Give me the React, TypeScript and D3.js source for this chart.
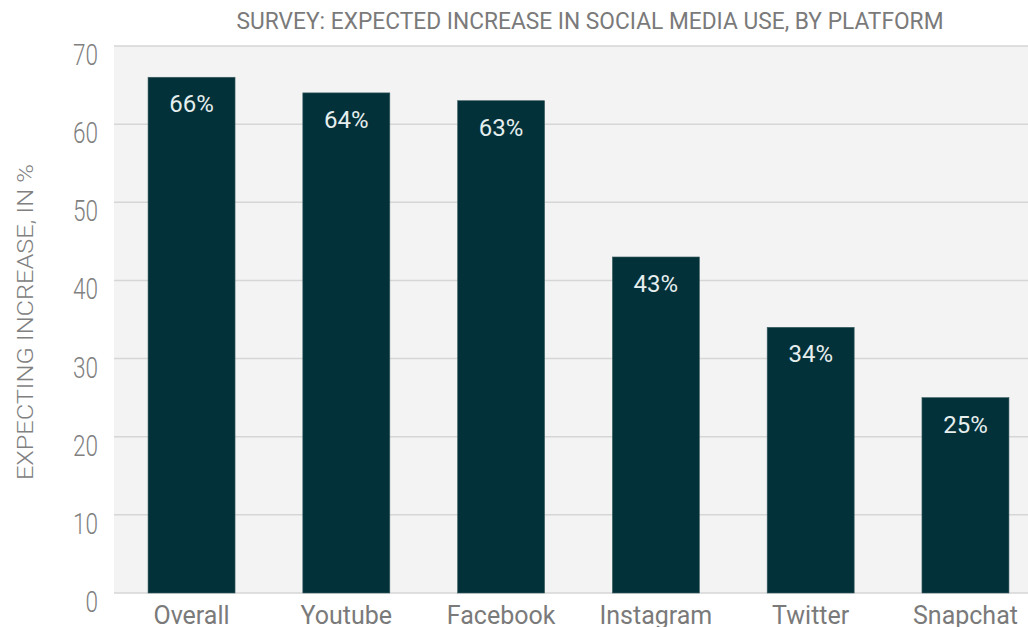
import React from "react";
import * as d3 from "d3";

const categories = ["Overall", "Youtube", "Facebook", "Instagram", "Twitter", "Snapchat"];
const values = [66, 64, 63, 43, 34, 25];
const yTicks = [0, 10, 20, 30, 40, 50, 60, 70];
const title = "SURVEY: EXPECTED INCREASE IN SOCIAL MEDIA USE, BY PLATFORM";
const yTitle = "EXPECTING INCREASE, IN %";

const W = 1028;
const H = 627;
const plotLeft = 114;
const plotRight = 1043;
const plotTop = 46;
const plotBottom = 593;
const FONT = "Roboto, 'Open Sans', sans-serif";

export default function App() {
  const x = d3
    .scaleBand<string>()
    .domain(categories)
    .range([plotLeft, plotRight])
    .paddingInner(0.438)
    .paddingOuter(0.22);
  const y = d3.scaleLinear().domain([0, 70]).range([plotBottom, plotTop]);

  return (
    <svg
      width={W}
      height={H}
      style={{ position: "absolute", left: 0, top: 0, background: "#fff" }}
    >
      <rect
        x={plotLeft}
        y={plotTop}
        width={W - plotLeft}
        height={plotBottom - plotTop}
        fill="#f3f3f3"
      />
      {yTicks.map((t) => (
        <g key={t}>
          <line
            x1={plotLeft}
            x2={W}
            y1={y(t)}
            y2={y(t)}
            stroke="#d6d6d6"
            strokeWidth={1.5}
          />
          <text
            x={98}
            y={y(t) + 19}
            textAnchor="end"
            fontFamily={FONT}
            fontSize={29}
            fontWeight={300}
            fill="#808080"
            textLength={String(t).length * 12.5}
            lengthAdjust="spacingAndGlyphs"
          >
            {t}
          </text>
        </g>
      ))}
      {categories.map((c, i) => (
        <g key={c}>
          <rect
            x={x(c)}
            y={y(values[i])}
            width={x.bandwidth()}
            height={y(0) - y(values[i])}
            fill="#023139"
            stroke="#3d5f63"
            strokeWidth={0.6}
          />
          <text
            x={(x(c) as number) + x.bandwidth() / 2}
            y={y(values[i]) + 35}
            textAnchor="middle"
            fontFamily={FONT}
            fontSize={24}
            fill="#e6eeee"
          >
            {values[i]}%
          </text>
          <text
            x={(x(c) as number) + x.bandwidth() / 2}
            y={plotBottom + 31}
            textAnchor="middle"
            fontFamily={FONT}
            fontSize={25}
            fill="#7a7a7a"
          >
            {c}
          </text>
        </g>
      ))}
      <text
        x={590}
        y={29}
        textAnchor="middle"
        fontFamily={FONT}
        fontSize={23}
        fill="#7a7a7a"
        textLength={707}
        lengthAdjust="spacingAndGlyphs"
      >
        {title}
      </text>
      <text
        transform={`translate(33, 322) rotate(-90)`}
        textAnchor="middle"
        fontFamily={FONT}
        fontSize={22}
        fontWeight={300}
        fill="#808080"
        textLength={316}
        lengthAdjust="spacingAndGlyphs"
      >
        {yTitle}
      </text>
    </svg>
  );
}
